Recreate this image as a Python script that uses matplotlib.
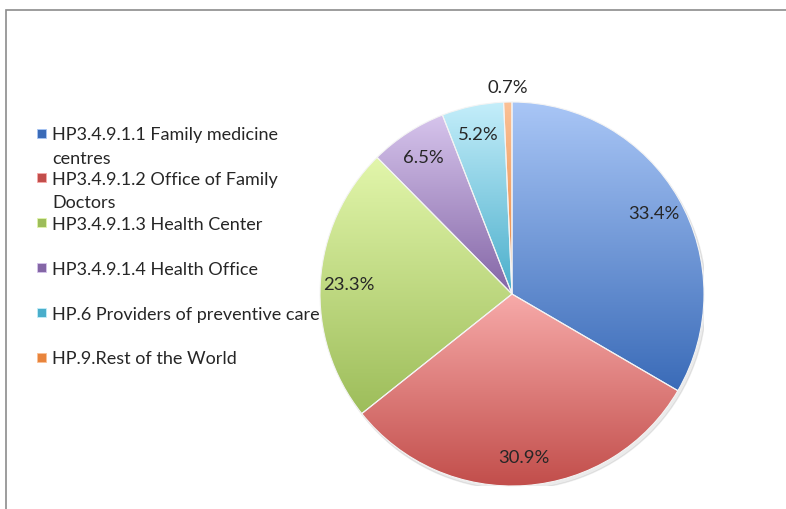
import matplotlib.pyplot as plt
import numpy as np
from matplotlib.colors import LinearSegmentedColormap
from matplotlib.patches import Rectangle

labels = ['HP3.4.9.1.1 Family medicine\ncentres',
          'HP3.4.9.1.2 Office of Family\nDoctors',
          'HP3.4.9.1.3 Health Center',
          'HP3.4.9.1.4 Health Office',
          'HP.6 Providers of preventive care',
          'HP.9.Rest of the World']
shares = [33.4, 30.9, 23.3, 6.5, 5.2, 0.7]
light = ['#a9c6f6', '#f7aaa9', '#e2f6ab', '#d6c4ec', '#c4eefa', '#fbc196']
dark = ['#3a6bb8', '#c24e4b', '#9dbd5a', '#8466a6', '#4aaecb', '#e8843c']

plt.rcParams['font.family'] = ['Lato', 'DejaVu Sans']

fig = plt.figure(figsize=(7.86, 5.10), dpi=100)
W, H = 786, 510

# chart frame (runs off right / bottom edge)
fig.patches.append(Rectangle((6 / W, -0.1), 1.0, (H - 11) / H + 0.1,
                             transform=fig.transFigure, fill=False,
                             edgecolor='#8c8c8c', linewidth=1.2))

cx, cy, r = 512, 215, 192
ax = fig.add_axes([(cx - r) / W, (cy - r) / H, 2 * r / W, 2 * r / H])

wedges, texts, autotexts = ax.pie(
    shares, startangle=90, counterclock=False, colors=dark,
    autopct='%1.1f%%', pctdistance=0.85,
    wedgeprops=dict(edgecolor='#f4f4f4', linewidth=0.8),
    textprops=dict(fontsize=13.3, color='#262626'))

# soft shadow under pie
sh = plt.Circle((0.012, -0.018), 1.0, color='#000000', alpha=0.08, zorder=0.5)
ax.add_patch(sh)

# vertical gradient inside each wedge
for w, c0, c1 in zip(wedges, light, dark):
    ext = w.get_path().get_extents()
    cmap = LinearSegmentedColormap.from_list('g', [c1, c0])
    grad = np.linspace(0, 1, 256).reshape(-1, 1)
    im = ax.imshow(grad, cmap=cmap, origin='lower', aspect='auto',
                   extent=(ext.x0, ext.x1, ext.y0, ext.y1), zorder=1.5)
    im.set_clip_path(w)
    w.set_facecolor('none')
    w.set_zorder(2)

for t in autotexts:
    t.set_zorder(3)
# smallest slice label sits outside
th = np.arctan2(*autotexts[-1].get_position()[::-1])
autotexts[-1].set_position((1.08 * np.cos(th), 1.08 * np.sin(th)))
ax.set_xlim(-1, 1)
ax.set_ylim(-1, 1)

# legend
y0 = 134
for i, (lab, c0, c1) in enumerate(zip(labels, light, dark)):
    y = y0 + 44.8 * i
    fig.patches.append(Rectangle((37 / W, (H - y - 4.5) / H), 9 / W, 9 / H,
                                 transform=fig.transFigure,
                                 facecolor=c1, edgecolor=c0, linewidth=0.6))
    for j, line in enumerate(lab.split('\n')):
        fig.text(52 / W, (H - y - 23 * j) / H, line, fontsize=13,
                 color='#262626', va='center_baseline', ha='left')

fig.savefig('out.png', dpi=100)
